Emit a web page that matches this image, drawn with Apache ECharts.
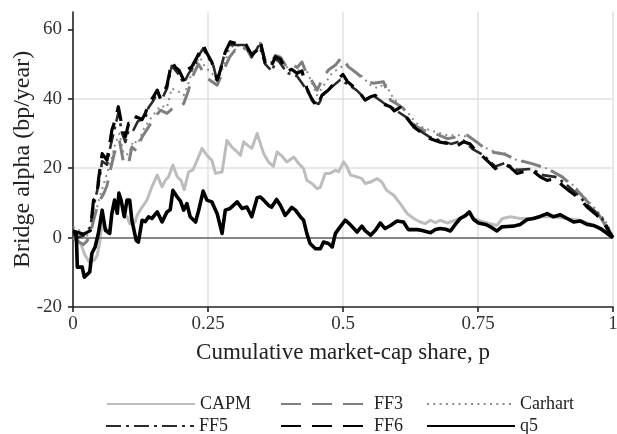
<!DOCTYPE html>
<html>
<head>
<meta charset="utf-8">
<script src="https://cdn.jsdelivr.net/npm/echarts@6/dist/echarts.min.js"></script>
<style>
  html, body { margin: 0; padding: 0; background: #fff; }
  #chart { width: 617px; height: 434px; }
</style>
</head>
<body>
<div id="chart"></div>
<script>
// Bridge alpha (bp/year) along the cumulative market-cap share p, one curve per factor model.
const xTicks = [0, 0.25, 0.5, 0.75, 1];
const yTicks = [-20, 0, 20, 40, 60];

const capm = [[0,0],[0.008,-0.5],[0.015,-2],[0.022,-5],[0.03,-7],[0.04,-6.5],[0.045,-5],[0.05,-1],[0.054,5],[0.06,2.5],[0.068,2],[0.072,7],[0.077,10.8],[0.082,7],[0.085,12],[0.09,10],[0.095,6],[0.1,6],[0.105,4],[0.115,4.5],[0.119,6.5],[0.128,8.8],[0.137,10.8],[0.146,14.6],[0.156,18],[0.165,14.6],[0.171,16.5],[0.177,17.5],[0.185,20.9],[0.193,17.5],[0.2,16.5],[0.206,13.8],[0.214,18.9],[0.222,19.5],[0.23,22.3],[0.239,25.7],[0.248,23.7],[0.257,22.3],[0.264,18.5],[0.276,18.9],[0.285,28],[0.294,26.1],[0.302,25],[0.31,23.7],[0.316,27.6],[0.324,26.5],[0.331,25.7],[0.341,30],[0.344,30],[0.353,24.2],[0.362,21.8],[0.371,20.5],[0.378,24.7],[0.387,23.5],[0.396,21.8],[0.409,23.2],[0.418,21.3],[0.427,19.9],[0.433,16.5],[0.443,15.5],[0.452,14.1],[0.458,14.5],[0.467,18.5],[0.476,18.5],[0.486,19.4],[0.492,19],[0.501,21.8],[0.507,20.5],[0.514,18],[0.526,17.5],[0.535,17],[0.541,15.6],[0.551,16],[0.563,17],[0.572,16],[0.581,13.6],[0.594,12.2],[0.606,9.8],[0.619,6.9],[0.631,5.5],[0.643,4.5],[0.652,4],[0.662,5],[0.671,4.3],[0.68,5],[0.693,4.2],[0.708,5],[0.727,6.2],[0.734,7],[0.742,5.5],[0.754,4.8],[0.773,4],[0.785,3.5],[0.795,5.5],[0.81,6],[0.828,5.5],[0.847,5.5],[0.865,6],[0.89,6],[0.915,5.5],[0.939,5],[0.964,3.5],[0.989,1.2],[1,0]];

const ff3 = [[0,0],[0.008,-1],[0.019,-2],[0.026,-1],[0.032,1],[0.038,5],[0.047,10],[0.057,12.7],[0.063,15],[0.069,19.4],[0.078,25.2],[0.086,28],[0.094,21.3],[0.103,21.3],[0.109,26.1],[0.117,25],[0.128,29],[0.14,31.9],[0.152,34.8],[0.162,36.7],[0.174,35.8],[0.183,37],[0.196,37.5],[0.205,38.6],[0.213,42],[0.22,46],[0.232,50],[0.24,48],[0.248,46],[0.267,43.9],[0.278,48],[0.29,52],[0.3,54],[0.31,53],[0.32,55],[0.33,52],[0.341,55],[0.347,56],[0.356,51],[0.365,50],[0.375,52.5],[0.384,52],[0.396,49],[0.405,50],[0.415,49],[0.424,50.6],[0.433,47],[0.443,45],[0.452,42.5],[0.461,45.4],[0.473,48.3],[0.486,49.7],[0.498,52.1],[0.51,49.2],[0.522,47.8],[0.532,46.5],[0.545,44.9],[0.556,44.5],[0.575,44.9],[0.588,39.6],[0.6,38.5],[0.612,37.2],[0.624,33.3],[0.636,32],[0.65,30.9],[0.67,30],[0.693,28.5],[0.71,29],[0.73,29.5],[0.748,27.5],[0.76,26],[0.78,24.5],[0.8,24],[0.82,22.5],[0.85,21.3],[0.878,19.9],[0.906,17.5],[0.93,14.2],[0.952,10.5],[0.97,7.5],[0.982,4.5],[0.992,2],[1,0]];

const carhart = [[0,3],[0.01,2.5],[0.02,0],[0.03,1],[0.04,6],[0.05,12],[0.06,17],[0.07,22],[0.078,27],[0.086,30],[0.094,24],[0.103,24],[0.112,28],[0.12,27],[0.13,31],[0.14,33.5],[0.152,36],[0.162,38],[0.174,37.5],[0.183,43],[0.196,42],[0.205,41],[0.215,45],[0.225,50],[0.235,52],[0.245,49],[0.257,47.5],[0.267,44.5],[0.28,50],[0.29,54.5],[0.3,55.5],[0.315,55],[0.33,53],[0.345,55.5],[0.356,51],[0.37,50.5],[0.385,51],[0.4,48.5],[0.415,48],[0.43,49],[0.44,45.5],[0.452,41],[0.465,44],[0.48,47.5],[0.495,49],[0.505,50],[0.52,48],[0.535,46.5],[0.55,44],[0.565,43],[0.578,44.5],[0.59,41],[0.605,38],[0.62,36],[0.635,33],[0.65,31.5],[0.67,30.5],[0.693,29.5],[0.72,29.5],[0.74,28.5],[0.76,26.1],[0.782,24.7],[0.8,24.2],[0.822,22.3],[0.85,21.3],[0.878,19.9],[0.906,17.5],[0.93,14.6],[0.952,10.8],[0.97,7.9],[0.985,5],[0.995,2.1],[1,0]];

const ff5 = [[0,1],[0.008,0],[0.019,0.5],[0.032,3],[0.038,9],[0.047,15],[0.054,22],[0.063,21],[0.069,26],[0.078,32],[0.084,36],[0.091,30],[0.097,27.5],[0.103,31],[0.112,31],[0.12,33.5],[0.134,34.5],[0.14,37.5],[0.149,39.5],[0.156,41.5],[0.165,40],[0.174,43],[0.183,49.5],[0.196,47],[0.205,44.5],[0.215,47.5],[0.225,49.5],[0.235,53],[0.241,54.5],[0.25,52],[0.26,49.5],[0.267,45],[0.28,52.5],[0.291,55.5],[0.305,55.5],[0.319,55.5],[0.331,52],[0.345,55.5],[0.356,50],[0.368,48],[0.378,51.5],[0.396,47.5],[0.415,46.5],[0.433,42.5],[0.447,39],[0.455,38.5],[0.465,41.5],[0.48,43.5],[0.495,45.5],[0.51,44],[0.525,42.5],[0.541,40],[0.56,40.5],[0.578,38.5],[0.595,37],[0.619,34.5],[0.64,31],[0.66,29],[0.68,28],[0.7,27],[0.723,28],[0.74,25.5],[0.76,23.8],[0.782,20.5],[0.8,21.5],[0.822,19.5],[0.85,19.8],[0.87,18],[0.893,17.5],[0.91,15.8],[0.93,13],[0.952,9.5],[0.967,7.5],[0.98,5.5],[0.99,3],[1,0]];

const ff6 = [[0,2],[0.008,1.5],[0.019,1],[0.026,1.5],[0.032,2],[0.038,10.8],[0.044,11.7],[0.047,16.5],[0.054,24.2],[0.063,22.3],[0.069,28],[0.072,31],[0.078,33.8],[0.084,37.7],[0.091,31.9],[0.097,29],[0.103,32.9],[0.112,32.5],[0.117,34.8],[0.128,34],[0.134,35.8],[0.14,38.6],[0.149,40.6],[0.156,42.5],[0.162,40],[0.168,41.5],[0.174,43.9],[0.183,50.6],[0.19,49],[0.196,48.3],[0.205,45.4],[0.211,48.3],[0.22,49.2],[0.23,52.1],[0.241,55.5],[0.248,53.1],[0.257,50.6],[0.267,45.4],[0.273,48.3],[0.282,53.5],[0.291,56.4],[0.301,56],[0.31,55.5],[0.319,56],[0.331,52.6],[0.341,54],[0.347,56.4],[0.356,50.2],[0.365,48.7],[0.375,52.1],[0.384,51.5],[0.396,47.8],[0.405,48.5],[0.415,47.3],[0.424,48],[0.433,43],[0.443,39.6],[0.452,37.7],[0.461,41],[0.473,42.5],[0.486,44.9],[0.495,46.3],[0.5,47],[0.508,45],[0.52,43.4],[0.532,41.5],[0.541,39.6],[0.55,40.5],[0.56,41],[0.569,39.5],[0.578,38.3],[0.588,37.7],[0.595,36.5],[0.606,37.5],[0.619,34.3],[0.631,31.9],[0.643,30.5],[0.652,29],[0.662,28.5],[0.671,28],[0.68,27.5],[0.693,27.1],[0.708,26.1],[0.723,27.6],[0.735,27],[0.748,24.7],[0.76,23.2],[0.773,21.3],[0.782,19.9],[0.797,21.3],[0.808,20.5],[0.822,18.5],[0.835,19],[0.85,19.4],[0.865,17.5],[0.878,16.5],[0.893,17],[0.906,15.1],[0.921,13.2],[0.939,11.2],[0.952,8.8],[0.967,6.9],[0.98,5],[0.989,2.6],[1,0]];

const q5 = [[0,1.5],[0.006,1.5],[0.008,-8.5],[0.017,-8.5],[0.021,-11.4],[0.031,-9.9],[0.035,-4.5],[0.041,-2.7],[0.047,1.2],[0.054,7.9],[0.06,2.1],[0.068,1.2],[0.072,7],[0.077,10.8],[0.082,7],[0.085,12.8],[0.089,10.8],[0.095,6],[0.1,10.8],[0.105,10.8],[0.109,5],[0.117,-0.8],[0.121,-1.3],[0.128,5],[0.134,4.6],[0.14,6],[0.146,5.5],[0.156,7.4],[0.165,4.5],[0.174,7.4],[0.18,8],[0.185,13.6],[0.193,11.7],[0.199,10.5],[0.205,7.9],[0.211,9.8],[0.217,6],[0.227,4.5],[0.233,8],[0.241,13.4],[0.248,10.8],[0.257,10.3],[0.267,6.9],[0.276,1.2],[0.282,7.9],[0.291,8.4],[0.304,10.3],[0.313,8.4],[0.322,8.8],[0.331,6],[0.341,11.5],[0.347,11.7],[0.353,10.8],[0.362,9.3],[0.368,8.8],[0.377,11],[0.384,9.3],[0.393,6.4],[0.399,7.5],[0.405,8.7],[0.412,7.9],[0.421,6],[0.427,5],[0.433,1.2],[0.439,-1.7],[0.449,-3.2],[0.458,-3.2],[0.464,-1.3],[0.473,-1.7],[0.48,-2.7],[0.486,1.2],[0.492,2.5],[0.504,5],[0.513,3.8],[0.526,1.6],[0.535,3.3],[0.541,2],[0.551,0.7],[0.56,2.1],[0.569,4.2],[0.578,2.6],[0.588,3.5],[0.6,4.8],[0.612,4.5],[0.621,2.3],[0.637,2.3],[0.645,2.1],[0.662,1.4],[0.671,2.3],[0.68,2.6],[0.69,2.4],[0.699,1.9],[0.708,3.8],[0.717,5.5],[0.727,6.4],[0.734,7.4],[0.742,5.2],[0.751,4.2],[0.764,3.8],[0.773,3.1],[0.785,1.9],[0.794,3.1],[0.804,3.2],[0.816,3.3],[0.828,3.8],[0.841,5.2],[0.853,5.5],[0.865,6.1],[0.878,6.9],[0.89,6],[0.902,6.6],[0.915,5.5],[0.927,4.5],[0.939,4.8],[0.952,3.8],[0.964,3.5],[0.977,2.6],[0.989,1.2],[1,0]];

const FONT = '"Liberation Serif", "Times New Roman", serif';

function lineSeries(name, data, color, width, type, z) {
  return {
    name, type: 'line', data, z,
    symbol: 'none', showSymbol: false, smooth: false,
    lineStyle: { color, width, type, cap: 'butt', join: 'round' },
    itemStyle: { color },
    emphasis: { disabled: true }
  };
}

const series = [
  lineSeries('CAPM', capm, '#bdbdbd', 3, 'solid', 2),
  lineSeries('Carhart', carhart, '#8c8c8c', 2, [2, 4.3], 3),
  lineSeries('FF3', ff3, '#7f7f7f', 3, [20, 11], 4),
  lineSeries('FF5', ff5, '#2b2b2b', 2.6, [15, 5, 3, 5], 5),
  lineSeries('FF6', ff6, '#000000', 3.2, [20, 11], 6),
  lineSeries('q5', q5, '#000000', 3.6, 'solid', 7)
];

// zero reference line
series[0].markLine = {
  silent: true, symbol: 'none', label: { show: false },
  lineStyle: { color: '#666666', width: 1.6, type: 'solid' },
  data: [{ yAxis: 0 }]
};

function legendAt(name, left, top) {
  return {
    data: [name], left, top, orient: 'horizontal',
    itemWidth: 88, itemHeight: 14, itemGap: 0,
    selectedMode: false,
    itemStyle: { opacity: 0, borderWidth: 0 },
    textStyle: { fontFamily: FONT, fontSize: 18, color: '#222' }
  };
}

const option = {
  animation: false,
  backgroundColor: '#ffffff',
  textStyle: { fontFamily: FONT },
  grid: { left: 73, right: 4, top: 12, bottom: 127, containLabel: false, outerBoundsMode: 'none' },
  legend: [
    legendAt('CAPM', 101, 390),
    legendAt('FF3', 275, 390),
    legendAt('Carhart', 421, 390),
    legendAt('FF5', 100, 412),
    legendAt('FF6', 275, 412),
    legendAt('q5', 421, 412)
  ],
  xAxis: {
    type: 'value', min: 0, max: 1, interval: 0.25,
    name: 'Cumulative market-cap share, p',
    nameLocation: 'middle', nameGap: 34, nameMoveOverlap: false,
    nameTextStyle: { fontFamily: FONT, fontSize: 23, color: '#222' },
    axisLine: { show: true, onZero: false, lineStyle: { color: '#222', width: 1.6 } },
    axisTick: { show: true, inside: false, length: 5, lineStyle: { color: '#222', width: 1.6 }, customValues: xTicks },
    axisLabel: { fontFamily: FONT, fontSize: 19, color: '#333', margin: 8, customValues: xTicks,
      formatter: v => String(v) },
    splitLine: { show: true, showMinLine: false, lineStyle: { color: '#e0e0e0', width: 1.5 } }
  },
  yAxis: {
    type: 'value', min: -20, max: 65, interval: 20,
    name: 'Bridge alpha (bp/year)',
    nameLocation: 'middle', nameGap: 38, nameMoveOverlap: false,
    nameTextStyle: { fontFamily: FONT, fontSize: 24, color: '#222' },
    axisLine: { show: true, onZero: false, lineStyle: { color: '#222', width: 1.6 } },
    axisTick: { show: true, inside: false, length: 5, lineStyle: { color: '#222', width: 1.6 }, customValues: yTicks },
    axisLabel: { fontFamily: FONT, fontSize: 19, color: '#333', margin: 11, customValues: yTicks },
    splitLine: { show: true, showMinLine: false, showMaxLine: false, lineStyle: { color: '#e0e0e0', width: 1.5 } }
  },
  series
};

const chart = echarts.init(document.getElementById('chart'), null, { renderer: 'canvas' });
chart.setOption(option);
</script>
</body>
</html>
